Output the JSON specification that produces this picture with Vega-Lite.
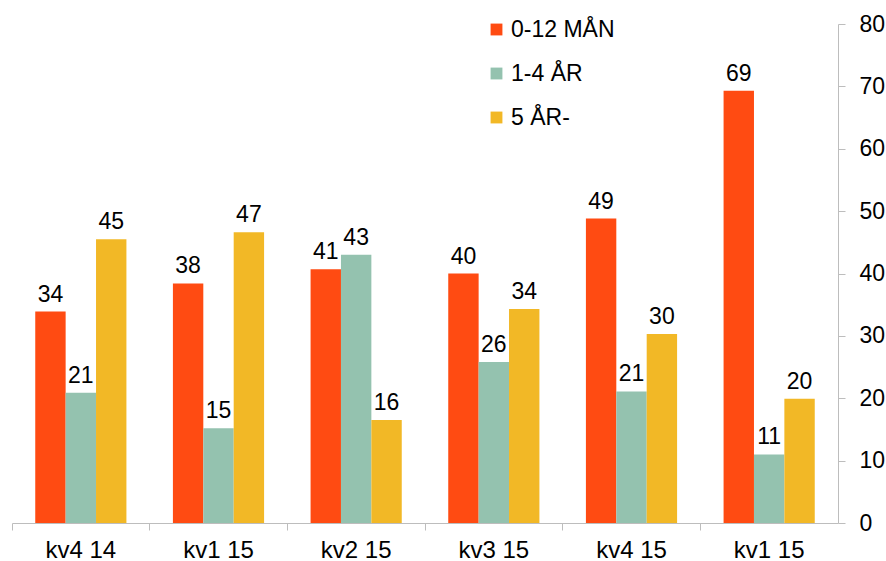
{
  "$schema": "https://vega.github.io/schema/vega-lite/v6.json",
  "width": 826,
  "height": 499,
  "autosize": {"type": "none"},
  "padding": {"left": 12, "top": 24, "right": 48, "bottom": 38},
  "background": "white",
  "config": {
    "font": "Liberation Sans",
    "view": {"stroke": null},
    "axis": {"labelFont": "Liberation Sans", "labelColor": "#000000", "domainColor": "#bdbdbd", "tickColor": "#bdbdbd", "grid": false, "title": null}
  },
  "data": {
    "values": [
      {"period": "1|kv4 14", "group": "0-12 MÅN", "value": 33.9, "label": "34"},
      {"period": "1|kv4 14", "group": "1-4 ÅR", "value": 20.9, "label": "21"},
      {"period": "1|kv4 14", "group": "5 ÅR-", "value": 45.5, "label": "45"},
      {"period": "2|kv1 15", "group": "0-12 MÅN", "value": 38.4, "label": "38"},
      {"period": "2|kv1 15", "group": "1-4 ÅR", "value": 15.2, "label": "15"},
      {"period": "2|kv1 15", "group": "5 ÅR-", "value": 46.6, "label": "47"},
      {"period": "3|kv2 15", "group": "0-12 MÅN", "value": 40.7, "label": "41"},
      {"period": "3|kv2 15", "group": "1-4 ÅR", "value": 43.0, "label": "43"},
      {"period": "3|kv2 15", "group": "5 ÅR-", "value": 16.5, "label": "16"},
      {"period": "4|kv3 15", "group": "0-12 MÅN", "value": 40.0, "label": "40"},
      {"period": "4|kv3 15", "group": "1-4 ÅR", "value": 25.8, "label": "26"},
      {"period": "4|kv3 15", "group": "5 ÅR-", "value": 34.3, "label": "34"},
      {"period": "5|kv4 15", "group": "0-12 MÅN", "value": 48.8, "label": "49"},
      {"period": "5|kv4 15", "group": "1-4 ÅR", "value": 21.1, "label": "21"},
      {"period": "5|kv4 15", "group": "5 ÅR-", "value": 30.3, "label": "30"},
      {"period": "6|kv1 15", "group": "0-12 MÅN", "value": 69.3, "label": "69"},
      {"period": "6|kv1 15", "group": "1-4 ÅR", "value": 11.0, "label": "11"},
      {"period": "6|kv1 15", "group": "5 ÅR-", "value": 19.9, "label": "20"}
    ]
  },
  "encoding": {
    "x": {
      "field": "period",
      "type": "nominal",
      "sort": null,
      "scale": {"paddingInner": 0, "paddingOuter": 0},
      "axis": {
        "labelExpr": "split(datum.label, '|')[1]",
        "labelAngle": 0,
        "bandPosition": 0,
        "labelFontSize": 24,
        "tickSize": 7,
        "labelPadding": 8,
        "labelBaseline": "top"
      }
    },
    "xOffset": {
      "field": "group",
      "type": "nominal",
      "sort": ["0-12 MÅN", "1-4 ÅR", "5 ÅR-"],
      "scale": {"paddingOuter": 0.765, "paddingInner": 0}
    },
    "y": {
      "field": "value",
      "type": "quantitative",
      "scale": {"domain": [0, 80], "nice": false},
      "axis": {
        "orient": "right",
        "values": [0, 10, 20, 30, 40, 50, 60, 70, 80],
        "labelFontSize": 23,
        "tickSize": 7,
        "labelPadding": 14
      }
    }
  },
  "layer": [
    {
      "mark": {"type": "bar"},
      "encoding": {
        "color": {
          "field": "group",
          "type": "nominal",
          "sort": ["0-12 MÅN", "1-4 ÅR", "5 ÅR-"],
          "scale": {"domain": ["0-12 MÅN", "1-4 ÅR", "5 ÅR-"], "range": ["#FF4B12", "#94C2AF", "#F2B826"]},
          "legend": {
            "title": null,
            "orient": "none",
            "legendX": 473,
            "legendY": -6,
            "symbolType": "square",
            "symbolSize": 140,
            "symbolStrokeWidth": 0,
            "labelFontSize": 23,
            "labelColor": "#000000",
            "labelFont": "Liberation Sans",
            "labelOffset": 3,
            "rowPadding": 20
          }
        }
      }
    },
    {
      "mark": {"type": "text", "baseline": "alphabetic", "dy": -10, "fontSize": 23, "color": "#000000"},
      "encoding": {
        "text": {"field": "label", "type": "nominal"}
      }
    }
  ]
}
